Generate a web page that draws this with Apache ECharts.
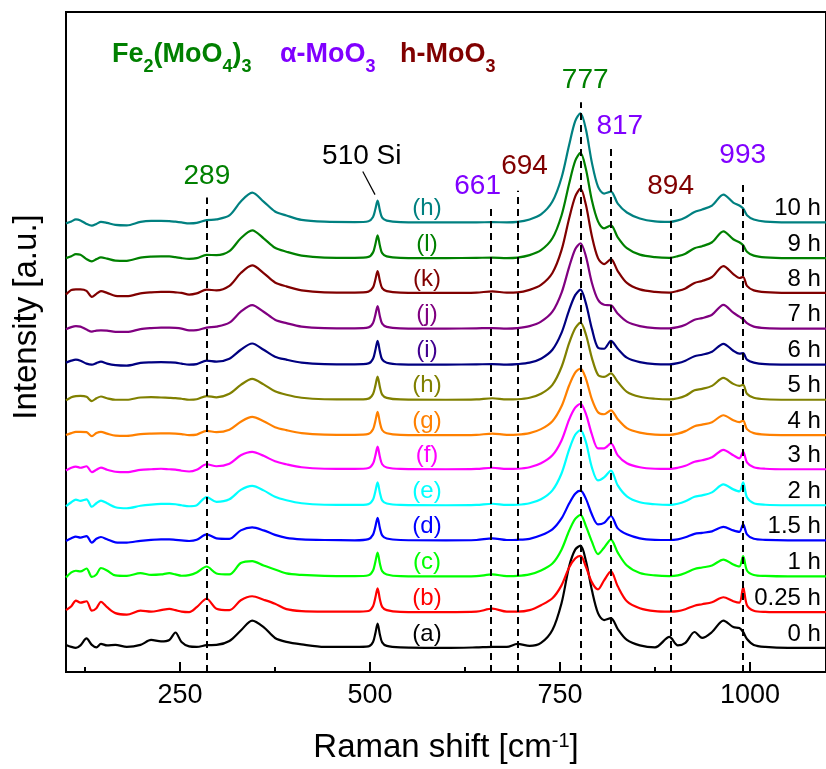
<!DOCTYPE html>
<html>
<head>
<meta charset="utf-8">
<title>Raman spectra</title>
<script src="https://cdn.jsdelivr.net/npm/echarts@6/dist/echarts.min.js"></script>
<style>
html,body{margin:0;padding:0;background:#fff;}
#chart{width:826px;height:769px;}
</style>
</head>
<body>
<div id="chart"></div>
<script>
// Raman shift grid (cm-1), shared by all spectra
var shift = [100,107,113,119,127,134,140,146,154,165,
  180,198,212,225,236,244,252,262,272,285,
  298,315,330,345,360,375,390,410,440,480,
  498,504,507,510,513,516,522,540,600,640,
  661,680,694,710,725,740,752,762,770,777,
  784,792,800,808,817,826,838,855,875,894,
  905,915,927,937,950,965,978,986,991,996,
  1005,1020,1050,1100];

// intensity of each spectrum above its own baseline (a.u.)
var s0h = [3,1,0,2.5,9.5,3,0.5,4,2.5,3,
  1,3,8,6.5,8,15.5,6,1.5,1,2.7,
  3,7,17.5,27.5,21,10,6,3.5,1,1,
  1.5,6,14.5,24.4,13.5,5.5,2,0.5,0,0.5,
  1,1,4,2,5,18,45,82,99,103,
  88,58,35,28,30,19,8,2.5,0.5,11,
  2.5,5,16,10,16,27.5,21,20,16,9,
  3,1,0,0];
var s025h = [2,6,11.7,9.5,11,1.5,4,10.5,5,-1,
  -2.5,1.5,0.5,2,3.3,2,0.5,0,5,13.5,
  3.5,2,12,16,12.5,8.5,3,1,0.5,0.5,
  1.2,6,14.5,24,13,5.3,2,0.3,0,0.5,
  3.5,0.5,0.5,2,7,14,27,45,54,56.7,
  46,30,23,32,41,26,11,4,1,0.5,
  1,3,6.5,8,10,15,11,9.5,25,7,
  1.5,0.3,0,0];
var s1h = [-1,4,5.7,5,8,-0.5,2,8.5,6,1,
  0.5,3.3,1.5,2,3.3,2,0.7,1.3,4,10,
  3,2,13.5,15.5,11,7,3,1.5,0.5,0.3,
  1.2,6,14.5,24,13,5.3,2,0.3,0,0.3,
  2,0.3,0.5,2,6,13,27,46,58,62,
  51,35,22.5,29,37,24,11,3.5,1,0.3,
  1,3.5,7.5,9,11,17,12,10,20.5,6,
  1.5,0.5,0,0];
var s15h = [-0.7,2,3.7,2.7,4.3,-2.3,1.5,3.3,1,-2,
  -2.3,-0.5,0.5,1,1,0.5,0,-0.7,0.5,6,
  2,1.5,10,13,10,5.5,2.5,1,0.3,0,
  1.2,5.7,13.5,22.6,12.4,5,1.8,0.3,0,0.3,
  2,0.3,0.5,1.5,5,11,22,37,47,50,
  42,26,16,17.5,24.5,12,6,2,0.5,0.3,
  1,3,6.5,7.5,9,13.5,10,8.5,16,6,
  1.5,0.5,0,0];
var s2h = [-1,3,5.7,4.5,6,-1.5,2,4.7,2,-2,
  -3,-0.5,0.7,1.3,1.3,1,0,-1,0,8.3,
  3.5,6,15.5,19.5,15,8.5,5,2,0.5,0.3,
  1.2,5.8,13.8,23,12.7,5,1.8,0.3,0,0.3,
  1.5,0.3,0.5,2,6,15,32,56,71,75.7,
  64,38,25,28,35,20,9,3,1,0.3,
  1.5,4,8.5,10,13,21,16,14,23,8,
  2,0.5,0,0];
var s3h = [-1.3,1.5,2.7,1.5,3,-3,-0.5,1.7,-0.5,-2.5,
  -3,-0.7,0,0.5,0,-0.3,-1.5,-2.3,-0.5,5,
  3,5.5,14,17.4,13.5,8,5,2,0.5,0.3,
  1.2,5.7,13.6,22.7,12.5,5,1.8,0.3,0,0.3,
  1.5,0.3,0.5,2,6,14,29,50,62,66,
  56,35,21,21,26,14,6,2,0.5,0.3,
  1.5,3.5,7.5,9,12,19.5,14,11,17.5,7,
  2,0.5,0,0];
var s4h = [0,2,3.3,3.3,3,-1,2,3.3,1.5,-0.5,
  -0.7,1,1.5,1.7,1.7,1.5,1,0,0.5,4.3,
  3,5.5,13.5,18.3,14,8,5,2,0.5,0.3,
  1.2,5.8,14,23.3,12.8,5.1,1.9,0.3,0,0.3,
  1.5,0.3,0.5,2,6,14,29,50,63,67,
  57,36,23,21,25,16,7,2.5,0.5,0.3,
  1.5,4,9,10.5,13,20,15,13,14.5,6,
  2,0.5,0,0];
var s5h = [-0.7,2.5,3.7,4,3,-1.3,1.5,3.3,1.5,0,
  0,2.3,2.7,2.3,2,1.7,1,0,0.5,3.7,
  2.5,6,15,21,15.5,8.5,5,2,0.5,0.3,
  1.2,5.9,14,23.4,12.9,5.1,1.9,0.3,0,0.3,
  1.5,0.3,0.5,2,6,15,33,57,72,77.7,
  66,42,25,23,26.5,18,8,3,1,0.3,
  1.5,4,9.5,11,14,22,16,14,15,6,
  2,0.5,0,0];
var s6h = [2,4,5,4,1,0,1.5,3,1,-0.5,
  -1,1.7,2.3,2.5,2.3,2,1,0,0.5,4,
  3,6,15,21.3,15,8,5,2,0.5,0.3,
  1.2,6,14.4,24,13.2,5.3,1.9,0.3,0,0.3,
  0.5,0,0.5,2,6,15,32,55,70,75.6,
  62,36,17,16,24,16,7,2.5,0.5,0.3,
  1.5,4,8.5,10,13,21,14,11,11.5,5,
  2,0.5,0,0];
var s7h = [-0.7,1.5,2.5,2,-1,-3,-2,-1.7,-2,-3.3,
  -3.3,-0.5,0.5,1,1,0.7,0,-1.7,-1.5,1,
  2,6,17,23.7,17,9,5.5,2,0.5,0.3,
  1.2,5.7,13.6,22.7,12.5,5,1.8,0.3,0,0.3,
  0.5,0,0.5,2.5,7,17,36,62,80,86,
  73,46,29,24,23.5,15,7,2.5,0.5,0.3,
  1.5,4,9,10.5,14,24,16,12,9.5,5.5,
  2,0.5,0,0];
var s8h = [-1.7,3,3.5,3.5,2,-4,-1,1.7,0,-3,
  -3.3,-0.5,0.5,1,1,0.5,0,-1.7,-0.5,3.3,
  2.5,7,20,27.7,20,10.5,6.5,2.5,0.5,0.3,
  1.2,5.5,13.2,22,12.1,4.8,1.8,0.3,0,0.3,
  1.5,0.3,0.5,3,8,20,43,75,97,105,
  89,57,35,29,34,22,10,3.5,1,0.3,
  2,4.5,10,12,16,27,19,15,16,7,
  2.5,0.7,0,0];
var s9h = [0,2,4,3.5,-1,-3.3,-1,0.7,-0.5,-2.5,
  -2.7,0.5,1.5,1.8,1.7,1,0,-0.7,0,3.3,
  3,7,20,28,20,10.5,6.5,2.5,0.5,0.3,
  1.2,5.8,13.8,23,12.7,5,1.8,0.3,0,0.3,
  0.5,0,0.5,3,8,20,43,75,98,106,
  90,58,37,30,33,21,10,3.5,1,0.3,
  2,4.5,10,12,16,27,19,16,13,6.5,
  2.5,0.7,0,0];
var s10h = [-1,1,3,2,-1.5,-3.3,-1.5,0.5,-0.5,-2.5,
  -3,0.5,1.5,1.5,1.3,0.7,0,-1,-0.5,2.3,
  3,7,21,30,21,11,7,2.5,0.7,0.3,
  1.2,5.5,13.2,22,12.1,4.8,1.8,0.3,0,0,
  0.3,0,0.5,3,8,21,45,78,102,110,
  94,60,36,29,31,19,10,4,1,0.5,
  2,5,10.5,13,17,28,20,17,14,7.3,
  3,0.8,0,0];

var spectra = [s0h, s025h, s1h, s15h, s2h, s3h, s4h, s5h, s6h, s7h, s8h, s9h, s10h];
// vertical stacking offset of each spectrum
var offsets = [24.3, 60.3, 96.3, 132.7, 168, 204.3, 238.7, 274.3, 309.7, 346, 382, 417, 453];
var colors = ['#000000','#ff0000','#00ff00','#0000ff','#00ffff','#ff00ff','#ff8000','#808000','#000080','#800080','#800000','#008000','#008080'];
var letterColors = ['#000000','#ff0000','#00ff00','#0000ff','#00ffff','#ff00ff','#ff8000','#808000','#400090','#800080','#800000','#008000','#008080'];
var letters = ['(a)','(b)','(c)','(d)','(e)','(f)','(g)','(h)','(i)','(j)','(k)','(l)','(h)'];
var times = ['0 h','0.25 h','1 h','1.5 h','2 h','3 h','4 h','5 h','6 h','7 h','8 h','9 h','10 h'];

// reference lines and their labels
var lineX = [285, 659, 695, 777, 817, 896, 990];
var lineTop = [478, 468, 485, 574, 530, 470, 495];
var peakText = ['289', '661', '694', '777', '817', '894', '993'];
var peakX = [285.4, 641.6, 703.3, 783.2, 828.7, 895.6, 990.4];
var peakY = [499.5, 489.5, 509.5, 596, 549.5, 489.5, 520.5];
var peakColor = ['#008000', '#8000ff', '#800000', '#008000', '#8000ff', '#800000', '#8000ff'];
var majorTicks = [250, 500, 750, 1000];
var minorTicks = [125, 375, 625, 875];

var FONT = "'Liberation Sans', Arial, sans-serif";
var chart = echarts.init(document.getElementById('chart'));

var series = [];
for (var k = 0; k < spectra.length; k++) {
    var pts = [];
    for (var i = 0; i < shift.length; i++) {
        pts.push([shift[i], offsets[k] + spectra[k][i]]);
    }
    series.push({
        type: 'line',
        data: pts,
        showSymbol: false,
        smooth: 0.3,
        lineStyle: {color: colors[k], width: 2.2},
        itemStyle: {color: colors[k]},
        z: 3
    });
}

// text-only scatter: invisible symbol, fully opaque label
var hidden = {color: 'transparent', opacity: 1};

var letterData = [], timeData = [];
for (var k = 0; k < offsets.length; k++) {
    letterData.push({name: letters[k], value: [575, offsets[k] + 14], label: {color: letterColors[k]}});
    timeData.push({name: times[k], value: [1094, offsets[k] + 14]});
}
series.push({
    type: 'scatter', data: letterData, symbolSize: 1, itemStyle: hidden, silent: true, z: 5,
    label: {show: true, position: 'inside', formatter: '{b}', fontSize: 24, fontFamily: FONT}
});
series.push({
    type: 'scatter', data: timeData, symbolSize: 1, itemStyle: hidden, silent: true, z: 5,
    label: {show: true, position: 'left', distance: 0, formatter: '{b}', fontSize: 24, fontFamily: FONT, color: '#000'}
});

var peakData = [], markLines = [];
for (var p = 0; p < peakText.length; p++) {
    peakData.push({name: peakText[p], value: [peakX[p], peakY[p]], label: {color: peakColor[p]}});
    markLines.push([{coord: [lineX[p], 0]}, {coord: [lineX[p], lineTop[p]]}]);
}
peakData.push({name: '510 Si', value: [489.2, 520], label: {color: '#000'}});
markLines.push([{coord: [490.5, 504.3], lineStyle: {type: 'solid', width: 1.2}}, {coord: [506.6, 481]}]);

series.push({
    type: 'scatter', data: peakData, symbolSize: 1, itemStyle: hidden, silent: true, z: 6,
    label: {show: true, position: 'inside', formatter: '{b}', fontSize: 28, fontFamily: FONT},
    markLine: {
        silent: true,
        symbol: ['none', 'none'],
        label: {show: false},
        lineStyle: {color: '#000', width: 2, type: [7, 5]},
        data: markLines,
        z: 6
    }
});

function phase(txt, color, left) {
    return {
        type: 'text', left: left, top: 41.5,
        style: {
            text: txt,
            rich: {
                m: {fontSize: 27, fontWeight: 'bold', fontFamily: FONT, fill: color, verticalAlign: 'top'},
                s: {fontSize: 18, fontWeight: 'bold', fontFamily: FONT, fill: color, lineHeight: 52, verticalAlign: 'middle'}
            }
        }
    };
}

var option = {
    animation: false,
    grid: {left: 66, top: 12, width: 765, height: 665, show: true, borderColor: '#000', borderWidth: 2, backgroundColor: 'transparent'},
    xAxis: [{
        type: 'value', min: 100, max: 1100,
        axisLine: {onZero: false, lineStyle: {color: '#000', width: 2}},
        axisTick: {inside: true, length: 10, customValues: majorTicks, lineStyle: {color: '#000', width: 2}},
        axisLabel: {
            customValues: majorTicks, color: '#000', fontSize: 27, fontFamily: FONT, margin: 10,
            formatter: function (v) { return String(v); }
        },
        splitLine: {show: false},
        name: '{m|Raman shift [cm}{s|-1}{m|]}',
        nameLocation: 'middle',
        nameGap: 59,
        nameTextStyle: {
            rich: {
                m: {fontSize: 33, fontFamily: FONT, color: '#000', verticalAlign: 'bottom'},
                s: {fontSize: 20, fontFamily: FONT, color: '#000', verticalAlign: 'top'}
            }
        }
    }, {
        type: 'value', min: 100, max: 1100, position: 'bottom',
        axisLine: {show: false},
        axisTick: {inside: true, length: 5, customValues: minorTicks, lineStyle: {color: '#000', width: 2}},
        axisLabel: {show: false},
        splitLine: {show: false}
    }],
    yAxis: {
        type: 'value', min: 0, max: 665,
        axisLine: {show: true, onZero: false, lineStyle: {color: '#000', width: 2}},
        axisTick: {show: false},
        axisLabel: {show: false},
        splitLine: {show: false}
    },
    graphic: [
        phase('{m|Fe}{s|2}{m|(MoO}{s|4}{m|)}{s|3}', '#008000', 112),
        phase('{m|\u03b1-MoO}{s|3}', '#8000ff', 280),
        phase('{m|h-MoO}{s|3}', '#800000', 400),
        {
            type: 'text', x: 27, y: 317, rotation: Math.PI / 2,
            style: {text: 'Intensity [a.u.]', fontSize: 33, fontFamily: FONT, fill: '#000', align: 'center', verticalAlign: 'middle'}
        }
    ],
    series: series
};
chart.setOption(option);
</script>
</body>
</html>
